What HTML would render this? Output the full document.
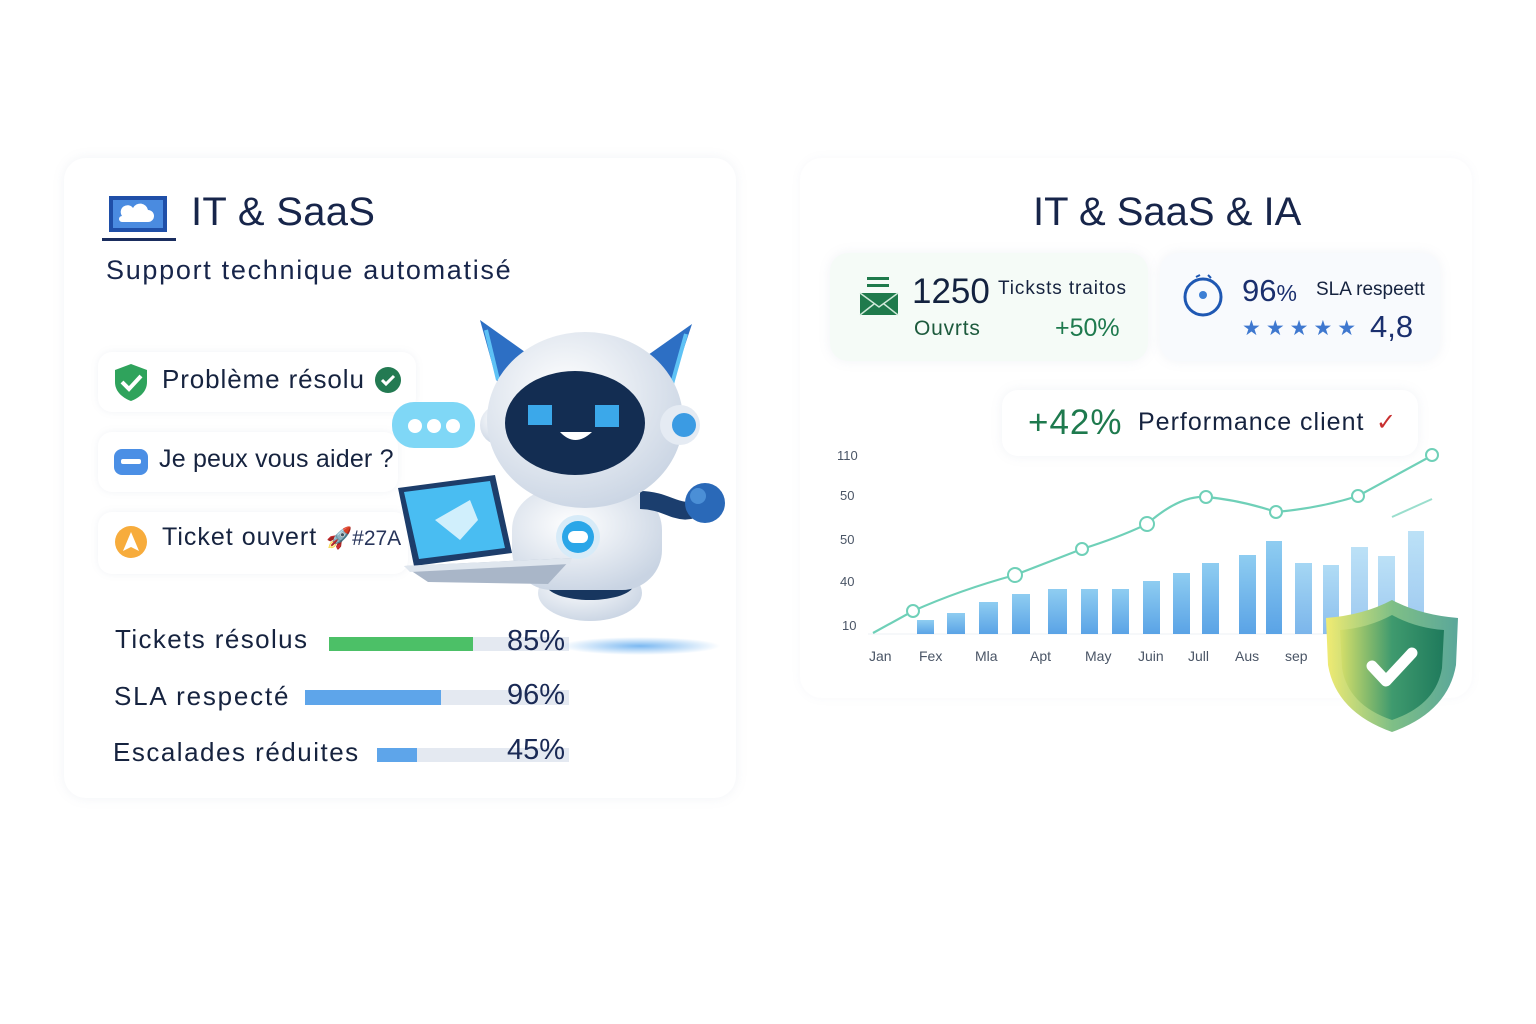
<!DOCTYPE html>
<html><head><meta charset="utf-8">
<style>
*{margin:0;padding:0;box-sizing:border-box}
body{width:1536px;height:1024px;background:#fff;position:relative;overflow:hidden;font-family:"Liberation Sans","DejaVu Sans",sans-serif;color:#16233f}
.a{position:absolute;white-space:nowrap}
.card{position:absolute;border-radius:22px;background:#fff;box-shadow:0 0 12px rgba(120,140,170,0.10)}
.pill{position:absolute;border-radius:14px;background:#fff;box-shadow:0 0 8px rgba(120,140,170,0.10)}
</style></head><body>

<div class="card" style="left:64px;top:158px;width:672px;height:640px"></div>
<div class="card" style="left:800px;top:158px;width:672px;height:540px;box-shadow:0 0 10px rgba(120,140,170,0.06)"></div>

<!-- Left header -->
<svg class="a" style="left:100px;top:192px" width="80" height="52">
<rect x="9" y="4" width="58" height="36" fill="#1f4fa8"/><rect x="13" y="8" width="50" height="28" fill="#4a8be0"/>
<path d="M22 30 h26 a6 6 0 0 0 0-12 a8 8 0 0 0-15 -2 a6 6 0 0 0-11 8 a3 3 0 0 0 0 6z" fill="#fff"/>
<rect x="2" y="46" width="74" height="3" fill="#1a2d5e"/>
</svg>
<div class="a" style="left:191px;top:190px;font-size:40px;color:#17254a;letter-spacing:0.3px">IT &amp; SaaS</div>
<div class="a" style="left:106px;top:255px;font-size:27px;color:#17254a;letter-spacing:1.7px">Support technique automatisé</div>

<div class="pill" style="left:98px;top:352px;width:318px;height:60px"></div>
<svg class="a" style="left:111px;top:362px" width="40" height="40"><path d="M20 2 L36 8 V20 C36 30 28 36 20 39 C12 36 4 30 4 20 V8Z" fill="#2fa35c"/><path d="M11 20 l7 7 l12-13" stroke="#fff" stroke-width="4" fill="none"/></svg>
<div class="a" style="left:162px;top:364px;font-size:26px;letter-spacing:0.9px">Problème résolu</div>
<svg class="a" style="left:374px;top:366px" width="28" height="28"><circle cx="14" cy="14" r="13" fill="#237a52"/><path d="M8 14 l4 4 l8-8" stroke="#fff" stroke-width="3" fill="none"/></svg>

<div class="pill" style="left:98px;top:432px;width:300px;height:60px"></div>
<svg class="a" style="left:113px;top:447px" width="36" height="30"><rect x="1" y="2" width="34" height="26" rx="8" fill="#4b8fe5"/><rect x="8" y="12" width="20" height="5" rx="2" fill="#fff"/></svg>
<div class="a" style="left:159px;top:445px;font-size:25px;letter-spacing:0.2px">Je peux vous aider ?</div>

<div class="pill" style="left:98px;top:512px;width:310px;height:62px"></div>
<svg class="a" style="left:113px;top:525px" width="36" height="34"><circle cx="18" cy="17" r="16" fill="#f7ac3c"/><path d="M18 7 L26 26 L18 22 L10 26Z" fill="#fff"/></svg>
<div class="a" style="left:162px;top:523px;font-size:25px;letter-spacing:1px">Ticket ouvert</div>
<div class="a" style="left:326px;top:527px;font-size:21px;color:#27345a">🚀#27A</div>

<!-- progress -->
<div class="a" style="left:115px;top:624px;font-size:26px;letter-spacing:1.4px">Tickets résolus</div>
<div class="a" style="left:329px;top:637px;width:240px;height:14px;background:#e4e9f1"></div>
<div class="a" style="left:329px;top:637px;width:144px;height:14px;background:#4cc067"></div>
<div class="a" style="left:114px;top:681px;font-size:26px;letter-spacing:1.8px">SLA respecté</div>
<div class="a" style="left:305px;top:690px;width:264px;height:15px;background:#e4e9f1"></div>
<div class="a" style="left:305px;top:690px;width:136px;height:15px;background:#5ea5ea"></div>
<div class="a" style="left:113px;top:737px;font-size:26px;letter-spacing:1.5px">Escalades réduites</div>
<div class="a" style="left:377px;top:748px;width:192px;height:14px;background:#e4e9f1"></div>
<div class="a" style="left:377px;top:748px;width:40px;height:14px;background:#5ea5ea"></div>

<!-- robot -->
<svg class="a" style="left:0;top:0" width="760" height="700">
<defs>
<radialGradient id="sh" cx="0.5" cy="0.5" r="0.5"><stop offset="0" stop-color="#5aa7ee" stop-opacity="0.8"/><stop offset="1" stop-color="#5aa7ee" stop-opacity="0"/></radialGradient>
<radialGradient id="wh" cx="0.4" cy="0.35" r="0.7"><stop offset="0" stop-color="#ffffff"/><stop offset="1" stop-color="#c9d4e3"/></radialGradient>
</defs>
<ellipse cx="640" cy="646" rx="80" ry="9" fill="url(#sh)"/>
<path d="M480 320 L525 352 L500 392Z" fill="#2d6fc4"/><path d="M486 330 L498 380" stroke="#5ec2f5" stroke-width="4"/>
<path d="M692 324 L648 355 L668 396Z" fill="#2d6fc4"/><path d="M686 334 L672 384" stroke="#5ec2f5" stroke-width="4"/>
<ellipse cx="590" cy="593" rx="52" ry="28" fill="url(#wh)"/>
<ellipse cx="590" cy="584" rx="44" ry="16" fill="#17365f"/>
<rect x="512" y="490" width="150" height="100" rx="40" fill="url(#wh)"/>
<ellipse cx="586" cy="495" rx="40" ry="10" fill="#17365f"/>
<path d="M640 500 C670 500 680 520 700 505" stroke="#1b3e6e" stroke-width="18" fill="none"/>
<circle cx="705" cy="503" r="20" fill="#2a69b8"/><circle cx="698" cy="496" r="8" fill="#4b8fd6"/>
<circle cx="578" cy="537" r="22" fill="#d7ebf8"/><circle cx="578" cy="537" r="16" fill="#2aa6e8"/><rect x="568" y="531" width="20" height="12" rx="6" fill="#fff"/>
<circle cx="500" cy="425" r="20" fill="url(#wh)"/>
<ellipse cx="585" cy="420" rx="98" ry="88" fill="url(#wh)"/>
<circle cx="680" cy="425" r="20" fill="#e5ebf3"/><circle cx="684" cy="425" r="12" fill="#3b9be3"/>
<ellipse cx="575" cy="423" rx="70" ry="52" fill="#132d52"/>
<rect x="528" y="405" width="24" height="20" fill="#3ba8ea"/><rect x="595" y="405" width="24" height="22" fill="#3ba8ea"/>
<path d="M560 432 Q575 448 592 432Z" fill="#fff"/>
<path d="M398 488 L495 475 L512 553 L414 566Z" fill="#1d3d6a"/>
<path d="M404 492 L490 481 L505 548 L419 559Z" fill="#49bdf2"/>
<path d="M435 520 L470 500 L478 520 L460 540 Z" fill="#dff4fd" opacity="0.9"/>
<path d="M404 566 L572 558 L548 584 L428 582Z" fill="#a9b6c8"/>
<path d="M404 566 L572 558 L570 564 L410 572Z" fill="#dfe6ee"/>
<rect x="392" y="402" width="83" height="46" rx="22" fill="#7fd7f6"/>
<circle cx="415" cy="426" r="7" fill="#fff"/><circle cx="434" cy="426" r="7" fill="#fff"/><circle cx="453" cy="426" r="7" fill="#fff"/>
</svg>
<div class="a" style="left:507px;top:625px;font-size:29px;color:#1a2a55">85%</div>
<div class="a" style="left:507px;top:679px;font-size:29px;color:#1a2a55">96%</div>
<div class="a" style="left:507px;top:734px;font-size:29px;color:#1a2a55">45%</div>

<!-- Right -->
<div class="a" style="left:1033px;top:190px;font-size:40px;color:#17254a">IT &amp; SaaS &amp; IA</div>

<div class="card" style="left:830px;top:253px;width:318px;height:108px;background:#f5fbf7;border-radius:18px"></div>
<svg class="a" style="left:858px;top:275px" width="42" height="42"><rect x="9" y="2" width="22" height="3" fill="#1f7a4c"/><rect x="9" y="9" width="22" height="3" fill="#1f7a4c"/><rect x="2" y="18" width="38" height="22" fill="#1f7a4c"/><path d="M2 18 L21 32 L40 18 M2 40 L16 29 M40 40 L26 29" stroke="#cfe9d9" stroke-width="1.5" fill="none"/></svg>
<div class="a" style="left:912px;top:272px;font-size:35px;color:#13223f">1250</div>
<div class="a" style="left:998px;top:278px;font-size:19px;letter-spacing:0.9px">Ticksts traitos</div>
<div class="a" style="left:914px;top:317px;font-size:21px;color:#1d5a3d;letter-spacing:0.8px">Ouvrts</div>
<div class="a" style="left:1055px;top:314px;font-size:25px;color:#1e7a4e">+50%</div>

<div class="card" style="left:1160px;top:253px;width:280px;height:108px;background:#f8fafd;border-radius:18px"></div>
<svg class="a" style="left:1180px;top:272px" width="46" height="48"><circle cx="23" cy="25" r="18" fill="none" stroke="#1f58b3" stroke-width="3"/><path d="M16 5 l4-2 M28 3 l3 3" stroke="#1f58b3" stroke-width="2"/><circle cx="23" cy="23" r="4" fill="#3d7fd4"/></svg>
<div class="a" style="left:1242px;top:273px;font-size:31px;color:#1a2f6e">96<span style="font-size:23px">%</span></div>
<div class="a" style="left:1316px;top:279px;font-size:19px">SLA respeett</div>
<div class="a" style="left:1242px;top:316px;font-size:21px;color:#3f78cf;letter-spacing:5px">★★★★★</div>
<div class="a" style="left:1370px;top:309px;font-size:31px;color:#1a2f6e">4,8</div>

<div class="card" style="left:1002px;top:390px;width:416px;height:66px;border-radius:16px"></div>
<div class="a" style="left:1028px;top:403px;font-size:35px;color:#1e7a4e;letter-spacing:1px">+42%</div>
<div class="a" style="left:1138px;top:408px;font-size:25px;letter-spacing:1px">Performance client</div>
<div class="a" style="left:1376px;top:408px;font-size:24px;color:#c83030">✓</div>

<svg class="a" style="left:0;top:0" width="1536" height="1024">
<defs>
<linearGradient id="bar" x1="0" y1="0" x2="0" y2="1"><stop offset="0" stop-color="#8fcdf1"/><stop offset="1" stop-color="#5aa3e6"/></linearGradient>
<linearGradient id="shd" x1="0" y1="0" x2="1" y2="0"><stop offset="0" stop-color="#f1eb72"/><stop offset="0.5" stop-color="#7fbf86"/><stop offset="1" stop-color="#5aa79a"/></linearGradient>
<linearGradient id="shi" x1="0" y1="0" x2="1" y2="0"><stop offset="0" stop-color="#d5df6a"/><stop offset="0.5" stop-color="#3f9a6e"/><stop offset="1" stop-color="#1f7a5c"/></linearGradient>
</defs>
<g font-size="13" fill="#4a5566" font-family="Liberation Sans, sans-serif">
<text x="837" y="460">110</text><text x="840" y="500">50</text><text x="840" y="544">50</text><text x="840" y="586">40</text><text x="842" y="630">10</text>
<text x="869" y="661" font-size="14">Jan</text><text x="919" y="661" font-size="14">Fex</text><text x="975" y="661" font-size="14">Mla</text><text x="1030" y="661" font-size="14">Apt</text><text x="1085" y="661" font-size="14">May</text><text x="1138" y="661" font-size="14">Juin</text><text x="1188" y="661" font-size="14">Jull</text><text x="1235" y="661" font-size="14">Aus</text><text x="1285" y="661" font-size="14">sep</text>
</g>
<line x1="868" y1="634" x2="1420" y2="634" stroke="#eef2f6"/>
<g fill="url(#bar)">
<rect x="917" y="620" width="17" height="14"/><rect x="947" y="613" width="18" height="21"/><rect x="979" y="602" width="19" height="32"/><rect x="1012" y="594" width="18" height="40"/><rect x="1048" y="589" width="19" height="45"/><rect x="1081" y="589" width="17" height="45"/><rect x="1112" y="589" width="17" height="45"/><rect x="1143" y="581" width="17" height="53"/><rect x="1173" y="573" width="17" height="61"/><rect x="1202" y="563" width="17" height="71"/><rect x="1239" y="555" width="17" height="79"/><rect x="1266" y="541" width="16" height="93"/><rect x="1295" y="563" width="17" height="71" opacity="0.8"/><rect x="1323" y="565" width="16" height="69" opacity="0.7"/><rect x="1351" y="547" width="17" height="87" opacity="0.6"/><rect x="1378" y="556" width="17" height="78" opacity="0.6"/><rect x="1408" y="531" width="16" height="103" opacity="0.6"/>
</g>
<path d="M873 633 L913 611 Q960 590 1015 575 L1082 549 Q1120 537 1147 524 Q1180 495 1206 497 Q1240 500 1276 512 Q1320 508 1358 496 L1433 455" stroke="#6fd0b8" stroke-width="2.2" fill="none"/>
<path d="M1392 517 L1432 499" stroke="#6fd0b8" stroke-width="2" fill="none" opacity="0.7"/>
<g fill="#fff" stroke="#6fd0b8" stroke-width="2">
<circle cx="913" cy="611" r="6"/><circle cx="1015" cy="575" r="7"/><circle cx="1082" cy="549" r="6"/><circle cx="1147" cy="524" r="7"/><circle cx="1206" cy="497" r="6"/><circle cx="1276" cy="512" r="6"/><circle cx="1358" cy="496" r="6"/><circle cx="1432" cy="455" r="6"/>
</g>
<path d="M1392 600 Q1420 615 1458 618 L1456 665 Q1448 712 1392 732 Q1336 712 1328 665 L1326 618 Q1364 615 1392 600Z" fill="url(#shd)"/>
<path d="M1392 615 Q1416 628 1444 630 L1442 668 Q1436 705 1392 720 Q1348 705 1342 668 L1340 630 Q1368 628 1392 615Z" fill="url(#shi)"/>
<path d="M1372 666 l14 15 l26-28" stroke="#fff" stroke-width="11" stroke-linecap="round" stroke-linejoin="round" fill="none"/>
</svg>
</body></html>
